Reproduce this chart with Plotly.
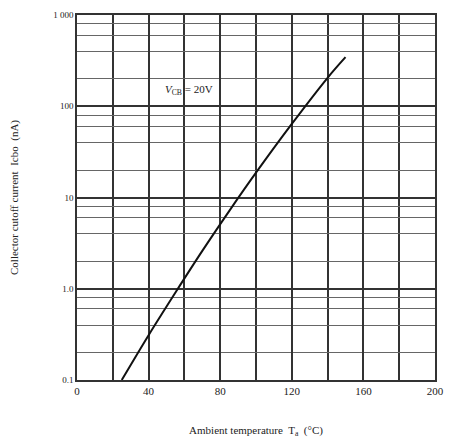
import plotly.graph_objects as go

# Data
temp_c = [25, 40, 55, 70, 85, 100, 120, 140, 150]
icbo_na = [0.1, 0.31, 0.91, 2.6, 7.1, 18.7, 64.0, 205.0, 345.0]

x_tickvals = [0, 40, 80, 120, 160, 200]
x_minor_vals = [20, 60, 100, 140, 180]
y_tickvals = [0.1, 1, 10, 100, 1000]
y_ticktext = ["0.1", "1.0", "10", "100", "1 000"]
y_minor_vals = [0.2, 0.4, 0.6, 0.8, 2, 4, 6, 8, 20, 40, 60, 80, 200, 400, 600, 800]

FONT = "Liberation Serif, Times New Roman, serif"

fig = go.Figure()
fig.add_trace(go.Scatter(
    x=temp_c, y=icbo_na, mode="lines",
    line=dict(color="#111111", width=2, shape="spline", smoothing=1.0),
    showlegend=False, hoverinfo="skip",
))

fig.add_annotation(
    x=48, y=2.18, xref="x", yref="y",
    text="<i>V</i><sub>CB</sub> = 20V",
    showarrow=False, xanchor="left", yanchor="middle",
    font=dict(family=FONT, size=11, color="#222222"),
)

fig.update_layout(
    width=454, height=445,
    margin=dict(l=77, r=11, t=10, b=61),
    paper_bgcolor="white", plot_bgcolor="white",
    font=dict(family=FONT, size=11, color="#222222"),
    xaxis=dict(
        range=[0, 200], tickvals=x_tickvals,
        showgrid=True, gridcolor="#333333", gridwidth=1.5,
        showline=True, linecolor="#333333", linewidth=1.5, mirror=True,
        zeroline=False, ticks="",
        minor=dict(tickvals=x_minor_vals, showgrid=True, gridcolor="#333333", gridwidth=1.5, ticks=""),
        title=dict(text="Ambient temperature  T<sub>a</sub>  (°C)", standoff=30,
                   font=dict(family=FONT, size=11)),
        tickfont=dict(family=FONT, size=11),
    ),
    yaxis=dict(
        type="log", range=[-1, 3], tickvals=y_tickvals, ticktext=y_ticktext,
        showgrid=True, gridcolor="#333333", gridwidth=1.5,
        showline=True, linecolor="#333333", linewidth=1.5, mirror=True,
        zeroline=False, ticks="",
        minor=dict(tickvals=y_minor_vals, showgrid=True, gridcolor="#666666", gridwidth=1, ticks=""),
        title=dict(text="Collector cutoff current  Icbo  (nA)", standoff=32,
                   font=dict(family=FONT, size=11)),
        tickfont=dict(family=FONT, size=9),
    ),
)

fig.write_html("out.html")
